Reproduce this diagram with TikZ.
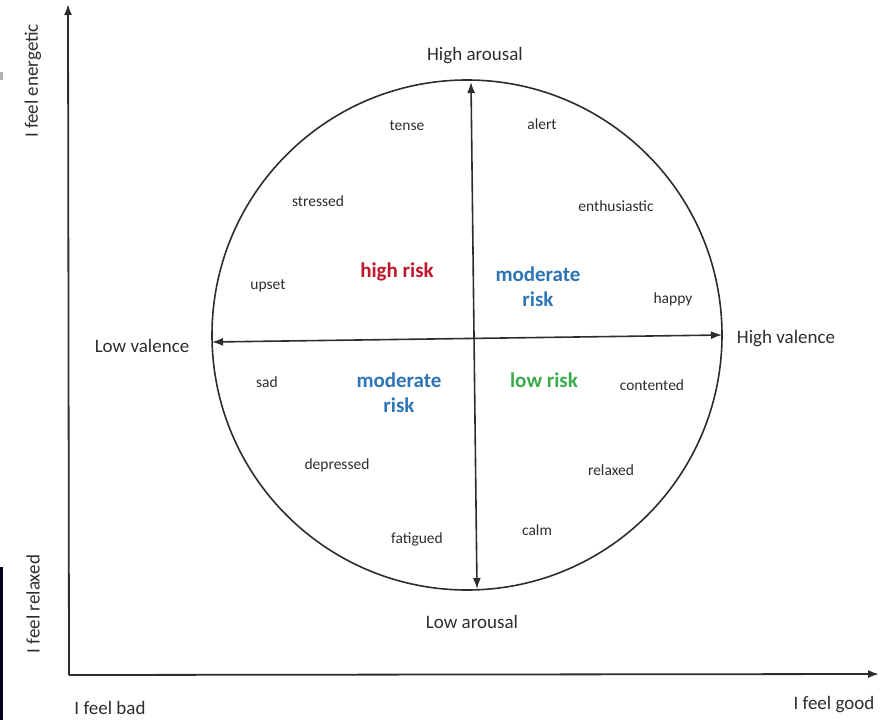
\documentclass[tikz,border=0pt]{standalone}
\usepackage{fontspec}
\setmainfont{Carlito}
\usetikzlibrary{arrows.meta}
\usetikzlibrary{positioning}

\definecolor{inkgray}{RGB}{45,45,45}
\definecolor{riskred}{RGB}{192,24,42}
\definecolor{riskblue}{RGB}{46,117,182}
\definecolor{riskgreen}{RGB}{59,170,74}

\tikzset{
    axislabel/.style={text=inkgray, font=\fontsize{19}{21}\selectfont},
    mood/.style={text=inkgray, font=\fontsize{15.5}{17}\selectfont},
    risk/.style={font=\fontsize{21}{25}\selectfont\bfseries, align=center},
}

\begin{document}
\begin{tikzpicture}[x=1pt,y=-1pt, >={Latex[length=11pt,width=8pt]}]
    \useasboundingbox (0,0) rectangle (884,720);
    % screenshot edges
    \fill[gray!60] (0,72) rectangle (3,80);
    \fill[black!80!blue!60!black] (0,567) rectangle (3,720);

    % outer axes
    \coordinate (origin) at (69,675);
    \coordinate (ytip) at (68,4);
    \coordinate (xtip) at (879,674);
    \draw[inkgray, line width=1.8pt, ->] (origin) -- (ytip);
    \draw[inkgray, line width=1.8pt, ->] (origin) -- (xtip);
    \node[axislabel, rotate=90] (energetic) at (33,81) {I feel energetic};
    \node[axislabel, rotate=90] (relaxedax) at (33,604) {I feel relaxed};
    \node[axislabel] (bad) at (110,708) {I feel bad};
    \node[axislabel] (good) at (834,705) {I feel good};

    % circumplex
    \node[draw=inkgray, line width=1.6pt, circle, minimum size=510pt, inner sep=0pt] (wheel) at (467,335) {};
    \coordinate (north) at (471,82);
    \coordinate (south) at (477,589);
    \coordinate (west) at (212,342);
    \coordinate (east) at (722,335);
    \draw[inkgray, line width=1.6pt, <->] (north) -- (south);
    \draw[inkgray, line width=1.6pt, <->] (west) -- (east);
    \node[axislabel] (hiar) at (475,56) {High arousal};
    \node[axislabel] (loar) at (472,622) {Low arousal};
    \node[axislabel] (loval) at (142,346) {Low valence};
    \node[axislabel] (hival) at (786,339) {High valence};

    % moods
    \node[mood] (tense) at (407,126) {tense};
    \node[mood] (alert) at (542,124) {alert};
    \node[mood] (stressed) at (318,201) {stressed};
    \node[mood] (enthusiastic) at (616,206) {enthusiastic};
    \node[mood] (upset) at (268,286) {upset};
    \node[mood] (happy) at (673,299) {happy};
    \node[mood] (sad) at (267,382) {sad};
    \node[mood] (contented) at (652,385) {contented};
    \node[mood] (depressed) at (337,465) {depressed};
    \node[mood] (relaxed) at (611,470) {relaxed};
    \node[mood] (fatigued) at (417,539) {fatigued};
    \node[mood] (calm) at (537,530) {calm};

    % risk
    \node[risk, text=riskred] (highrisk) at (397,272) {high risk};
    \node[risk, text=riskblue] (modrisktop) at (538,287) {moderate\\risk};
    \node[risk, text=riskblue] (modriskbot) at (399,393) {moderate\\risk};
    \node[risk, text=riskgreen] (lowrisk) at (544,380) {low risk};
\end{tikzpicture}
\end{document}
